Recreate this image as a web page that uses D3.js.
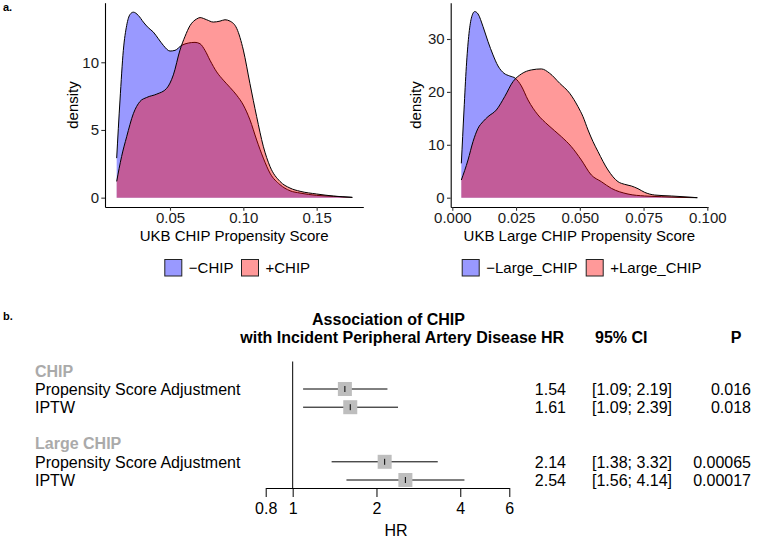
<!DOCTYPE html>
<html>
<head>
<meta charset="utf-8">
<script src="https://cdn.jsdelivr.net/npm/d3@7"></script>
<style>
  html, body { margin: 0; padding: 0; background: #fff; }
  svg { display: block; }
  text { font-family: "Liberation Sans", Arial, Helvetica, sans-serif; }
</style>
</head>
<body>
<script>
// ---------------- DATA ----------------
// Panel a (left): UKB CHIP propensity score densities
const chipX_neg = [0.01364,0.01591,0.01818,0.02046,0.02273,0.025,0.02841,0.03182,0.03523,0.03864,0.04205,0.04545,0.05,0.05341,0.05795,0.0625,0.06705,0.07045,0.07386,0.07727,0.08182,0.08636,0.09091,0.09545,0.1,0.10455,0.10909,0.11364,0.11818,0.125,0.13182,0.13864,0.15,0.16136,0.17432];
const chipY_neg = [2.92,7.21,10.88,12.72,13.53,13.7,13.46,12.97,12.55,12.23,11.74,11.25,10.83,10.88,11.25,11.42,11.47,11.37,10.88,10.15,9.29,8.68,8.14,7.57,6.84,5.74,4.26,2.92,1.81,0.96,0.51,0.34,0.17,0.1,0.02];
const chipX_pos = [0.01364,0.017,0.02046,0.025,0.0295,0.0341,0.041,0.0477,0.0523,0.0568,0.0602,0.0636,0.0682,0.0705,0.075,0.0795,0.0841,0.0875,0.0909,0.0955,0.1,0.1045,0.1091,0.1136,0.1182,0.125,0.1318,0.1387,0.15,0.1614,0.17432];
const chipY_pos = [1.2,3.04,4.5,6.2,7.1,7.4,7.65,8.07,9.07,10.9,11.9,12.7,13.2,13.3,13.14,12.97,13.04,13.14,13.04,12.5,10.9,8.43,5.98,3.8,2.3,1.2,0.71,0.47,0.27,0.12,0.02];

// Panel a (right): UKB Large CHIP propensity score densities
const largeX_neg = [0.00354,0.00459,0.0055,0.00642,0.00746,0.00877,0.01008,0.01204,0.014,0.01596,0.01792,0.02027,0.0225,0.02472,0.02707,0.02969,0.03361,0.03753,0.04276,0.04668,0.0506,0.05452,0.05844,0.06236,0.0689,0.07544,0.08197,0.08851,0.09609];
const largeY_neg = [6.49,16.58,24.78,30.45,33.92,35.18,34.74,32.35,29.51,26.99,24.9,23.52,23.01,22.57,21.12,18.47,15.64,13.75,11.54,9.65,7.12,4.29,3.03,1.77,0.69,0.32,0.19,0.06,0.0];
const largeX_pos = [0.00354,0.00616,0.00812,0.01008,0.01204,0.014,0.01727,0.02054,0.0238,0.02707,0.03099,0.03491,0.03818,0.04211,0.04603,0.04929,0.05125,0.05322,0.05518,0.05714,0.06106,0.06498,0.0676,0.07021,0.07282,0.07544,0.07936,0.08589,0.09243,0.09609];
const largeY_pos = [3.34,7.12,10.59,13.11,14.38,15.32,16.58,19.1,21.94,23.39,24.15,24.34,23.52,21.63,19.74,17.21,15.32,12.8,10.59,8.7,5.23,3.03,2.52,2.21,1.7,1.01,0.5,0.32,0.13,0.0];

const chipXTicks = [0.05, 0.10, 0.15];
const chipYTicks = [0, 5, 10];
const largeXTicks = [0.000, 0.025, 0.050, 0.075, 0.100];
const largeYTicks = [0, 10, 20, 30];
const chipLegend = ["\u2212CHIP", "+CHIP"];
const largeLegend = ["\u2212Large_CHIP", "+Large_CHIP"];

// Panel b: forest plot
const groupNames = ["CHIP", "Large CHIP"];
const methodNames = ["Propensity Score Adjustment", "IPTW"];
const hrValues = [1.54, 1.61, 2.14, 2.54];
const ciLower = [1.09, 1.09, 1.38, 1.56];
const ciUpper = [2.19, 2.39, 3.32, 4.14];
const hrLabels = ["1.54", "1.61", "2.14", "2.54"];
const ciLabels = ["[1.09; 2.19]", "[1.09; 2.39]", "[1.38; 3.32]", "[1.56; 4.14]"];
const pLabels = ["0.016", "0.018", "0.00065", "0.00017"];
const hrTicks = [0.8, 1, 2, 4, 6];

// ---------------- DRAWING ----------------
const W = 757, H = 540;
const svg = d3.select("body").append("svg").attr("width", W).attr("height", H);

const BLUE = "#0000ff", RED = "#ff0000";
const FONT = 15;

function densityPanel(opts) {
  const g = svg.append("g");
  const x = d3.scaleLinear().domain(opts.xDomain).range(opts.xRange);
  const y = d3.scaleLinear().domain(opts.yDomain).range([207, 2.7]);
  const series = opts.series;
  series.forEach(s => {
    const pts = s.xs.map((v, i) => [v, s.ys[i]]);
    const area = d3.area().x(d => x(d[0])).y0(y(0)).y1(d => y(d[1])).curve(d3.curveMonotoneX);
    const line = d3.line().x(d => x(d[0])).y(d => y(d[1])).curve(d3.curveMonotoneX);
    g.append("path").attr("d", area(pts)).attr("fill", s.color).attr("fill-opacity", 0.4);
    g.append("path").attr("d", line(pts)).attr("fill", "none").attr("stroke", "#000").attr("stroke-width", 1);
  });
  const xa = g.append("g").attr("transform", `translate(0,${207})`)
    .call(d3.axisBottom(x).tickValues(opts.xTicks).tickFormat(opts.xFormat).tickSize(3.7).tickSizeOuter(0).tickPadding(2));
  const ya = g.append("g").attr("transform", `translate(${opts.xRange[0]},0)`)
    .call(d3.axisLeft(y).tickValues(opts.yTicks).tickFormat(d3.format("d")).tickSize(3.7).tickSizeOuter(0).tickPadding(2.3));
  [xa, ya].forEach(a => {
    a.select(".domain").attr("stroke", "#000").attr("stroke-width", 1.1);
    a.selectAll(".tick line").attr("stroke", "#333").attr("stroke-width", 1.1);
    a.selectAll(".tick text").attr("font-size", FONT).attr("fill", "#1a1a1a")
      .attr("font-family", '"Liberation Sans", Arial, Helvetica, sans-serif');
  });
  // axis titles
  g.append("text").attr("x", (opts.xRange[0] + opts.xRange[1]) / 2).attr("y", 240.5)
    .attr("text-anchor", "middle").attr("font-size", FONT).attr("fill", "#000").text(opts.xTitle);
  g.append("text").attr("transform", `translate(${opts.yTitleX},105) rotate(-90)`)
    .attr("text-anchor", "middle").attr("dy", "0.35em").attr("font-size", FONT).attr("fill", "#000").text("density");
  // legend
  opts.legend.forEach((lab, i) => {
    const kx = opts.legendKeys[i];
    g.append("rect").attr("x", kx).attr("y", 259.5).attr("width", 17).attr("height", 16.5)
      .attr("fill", series[i].color).attr("fill-opacity", 0.4).attr("stroke", "#222").attr("stroke-width", 1);
    g.append("text").attr("x", kx + 24).attr("y", 272.8).attr("font-size", FONT).attr("fill", "#000").text(lab);
  });
}

densityPanel({
  xDomain: [0.00568, 0.1818], xRange: [105, 363.3],
  yDomain: [-0.69, 14.4],
  xTicks: chipXTicks, xFormat: d3.format(".2f"), yTicks: chipYTicks,
  series: [{xs: chipX_neg, ys: chipY_neg, color: BLUE}, {xs: chipX_pos, ys: chipY_pos, color: RED}],
  xTitle: "UKB CHIP Propensity Score", yTitleX: 72.5,
  legend: chipLegend, legendKeys: [164.8, 241.5]
});

densityPanel({
  xDomain: [-0.00063, 0.10027], xRange: [450.7, 708],
  yDomain: [-1.76, 36.86],
  xTicks: largeXTicks, xFormat: d3.format(".3f"), yTicks: largeYTicks,
  series: [{xs: largeX_neg, ys: largeY_neg, color: BLUE}, {xs: largeX_pos, ys: largeY_pos, color: RED}],
  xTitle: "UKB Large CHIP Propensity Score", yTitleX: 416,
  legend: largeLegend, legendKeys: [462.2, 586.2]
});

// panel letters
svg.append("text").attr("x", 3).attr("y", 11).attr("font-family", '"Liberation Serif", "Times New Roman", serif')
  .attr("font-weight", "bold").attr("font-size", 11).text("a.");
svg.append("text").attr("x", 3).attr("y", 320).attr("font-family", '"Liberation Serif", "Times New Roman", serif')
  .attr("font-weight", "bold").attr("font-size", 11).text("b.");

// ---------------- FOREST PLOT ----------------
const FF = 16;
const xF = d3.scaleLog().domain([0.8, 6]).range([265.7, 509.3]);
const rowY = d3.scaleLinear().domain([0, 6]).range([370.8, 480]);
const capHalf = 5.7;
const axisY = 488;
const colLabel = 35, colHR = 566, colCI = 592, colP = 751;

// header
const fh = svg.append("g").attr("font-weight", "bold").attr("font-size", FF).attr("fill", "#000");
fh.append("text").attr("x", 388.5).attr("y", 324.5).attr("text-anchor", "middle").text("Association of CHIP");
fh.append("text").attr("x", 388.5).attr("y", 343).attr("text-anchor", "middle").text("with Incident Peripheral Artery Disease");
fh.append("text").attr("x", colHR - 2).attr("y", 343).attr("text-anchor", "end").text("HR");
fh.append("text").attr("x", colCI + 3).attr("y", 343).text("95% CI");
fh.append("text").attr("x", 736).attr("y", 343).attr("text-anchor", "middle").text("P");

// reference line at HR = 1
svg.append("line").attr("x1", xF(1)).attr("x2", xF(1)).attr("y1", 361.5).attr("y2", axisY)
  .attr("stroke", "#000").attr("stroke-width", 1);

// rows
const rows = [];
groupNames.forEach((gname, gi) => {
  const base = gi * 4;
  svg.append("text").attr("x", colLabel).attr("y", rowY(base) + capHalf).attr("font-size", FF)
    .attr("font-weight", "bold").attr("fill", "#aaaaaa").text(gname);
  methodNames.forEach((m, mi) => {
    const k = gi * 2 + mi;
    rows.push({k, r: base + 1 + mi, label: m});
  });
});

rows.forEach(({k, r, label}) => {
  const cy = rowY(r);
  svg.append("text").attr("x", colLabel).attr("y", cy + capHalf).attr("font-size", FF).attr("fill", "#000").text(label);
  svg.append("line").attr("x1", xF(ciLower[k])).attr("x2", xF(ciUpper[k])).attr("y1", cy).attr("y2", cy)
    .attr("stroke", "#000").attr("stroke-width", 1);
  const s = 14;
  svg.append("rect").attr("x", xF(hrValues[k]) - s / 2).attr("y", cy - s / 2).attr("width", s).attr("height", s)
    .attr("fill", "#bebebe");
  svg.append("line").attr("x1", xF(hrValues[k])).attr("x2", xF(hrValues[k])).attr("y1", cy - 3).attr("y2", cy + 3)
    .attr("stroke", "#000").attr("stroke-width", 1);
  svg.append("text").attr("x", colHR).attr("y", cy + capHalf).attr("text-anchor", "end").attr("font-size", FF).text(hrLabels[k]);
  svg.append("text").attr("x", colCI).attr("y", cy + capHalf).attr("font-size", FF).text(ciLabels[k]);
  svg.append("text").attr("x", colP).attr("y", cy + capHalf).attr("text-anchor", "end").attr("font-size", FF).text(pLabels[k]);
});

// HR axis
const fa = svg.append("g").attr("transform", `translate(0,${axisY})`)
  .call(d3.axisBottom(xF).tickValues(hrTicks).tickFormat(d => String(d)).tickSize(9).tickSizeOuter(0).tickPadding(6));
fa.select(".domain").attr("stroke", "#000").attr("stroke-width", 1);
fa.selectAll(".tick line").attr("stroke", "#000").attr("stroke-width", 1);
fa.selectAll(".tick text").attr("font-size", FF).attr("fill", "#000")
  .attr("font-family", '"Liberation Sans", Arial, Helvetica, sans-serif');
svg.append("text").attr("x", 396).attr("y", 536).attr("text-anchor", "middle").attr("font-size", FF).text("HR");
</script>
</body>
</html>
